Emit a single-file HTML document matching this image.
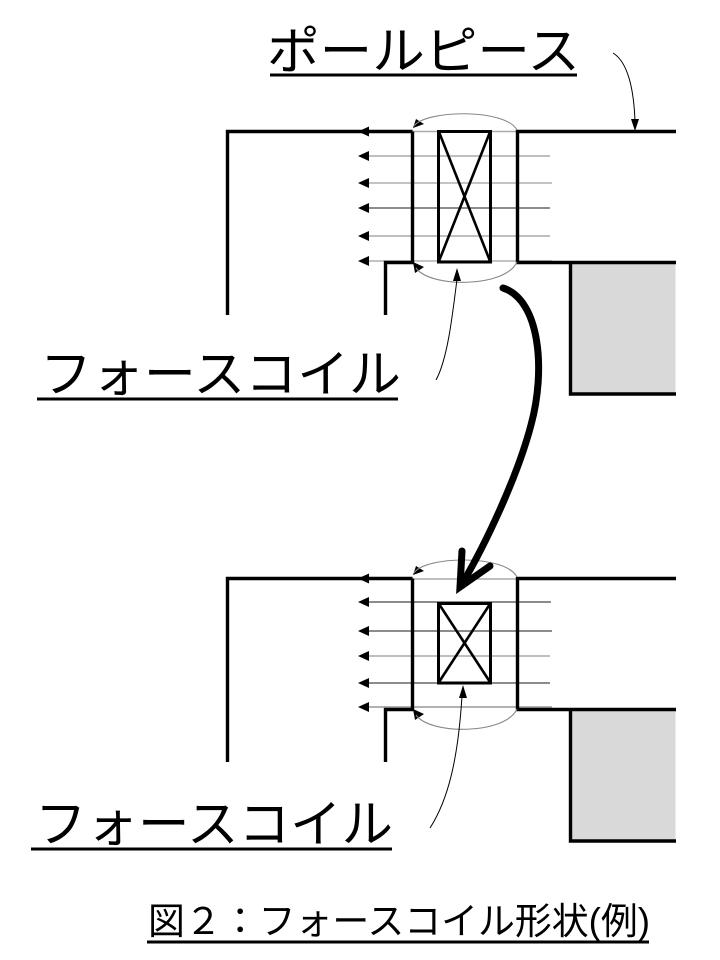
<!DOCTYPE html>
<html><head><meta charset="utf-8">
<style>
html,body{margin:0;padding:0;background:#fff;}
svg{display:block;}
text{font-family:"Liberation Sans","Noto Sans CJK JP",sans-serif;fill:#000;}
</style></head>
<body>
<svg width="720" height="960" viewBox="0 0 720 960" xmlns="http://www.w3.org/2000/svg">
<defs>
<g id="struct">
  <rect x="570.5" y="262.5" width="105" height="131.5" fill="#d9d9d9"/>
  <g fill="none" stroke="#000" stroke-width="3.4" stroke-linejoin="miter">
    <path d="M227.5,315 V131.5 H412.5"/>
    <path d="M412.5,131.5 V262.5 H385.5 V315"/>
    <path d="M676,131.5 H517.5 V262.5 H676"/>
    <path d="M570.5,262.5 V394 H676"/>
  </g>
  <polygon points="413,128 416,119 424,124" fill="#000"/>
  <polygon points="413,262 415,273 424,267" fill="#000"/>
</g>
<polygon id="ah" points="0,0 11,-5 11,5" fill="#000"/>
</defs>

<!-- TOP -->
<g>
  <!-- flux lines -->
  <g stroke-width="1.6">
    <line x1="368" y1="131.5" x2="550" y2="131.5" stroke="#aaa"/>
    <line x1="368" y1="156" x2="550" y2="156" stroke="#aaa"/>
    <line x1="368" y1="183" x2="552" y2="183" stroke="#b0b0b0"/>
    <line x1="368" y1="208" x2="550" y2="208" stroke="#666"/>
    <line x1="368" y1="236" x2="550" y2="236" stroke="#aaa"/>
    <line x1="368" y1="261" x2="552" y2="261" stroke="#b0b0b0"/>
  </g>
  <use href="#struct"/>
  <use href="#ah" x="358" y="131.5"/>
  <use href="#ah" x="358" y="156"/>
  <use href="#ah" x="358" y="183"/>
  <use href="#ah" x="358" y="208"/>
  <use href="#ah" x="358" y="236"/>
  <use href="#ah" x="358" y="261"/>
  <!-- ellipse arcs -->
  <path d="M414,126 C425,110 505,108 517,130" fill="none" stroke="#888" stroke-width="1.1"/>
  <path d="M416,268 C430,288 505,288 517,262" fill="none" stroke="#888" stroke-width="1.1"/>
  <!-- coil -->
  <rect x="438.5" y="131.5" width="52" height="130.5" fill="none" stroke="#000" stroke-width="3"/>
  <line x1="439" y1="132" x2="490" y2="261" stroke="#000" stroke-width="2.6"/>
  <line x1="490" y1="132" x2="439" y2="261" stroke="#000" stroke-width="2.6"/>
  <!-- coil leader -->
  <path d="M436,380 C447,360 452,320 457,279" fill="none" stroke="#000" stroke-width="1"/>
  <polygon points="457,268 453,281 461,281" fill="#000"/>
</g>

<!-- BOTTOM -->
<g>
  <g stroke-width="1.6">
    <line x1="368" y1="579" x2="550" y2="579" stroke="#aaa"/>
    <line x1="368" y1="602" x2="551" y2="602" stroke="#666"/>
    <line x1="368" y1="631" x2="552" y2="631" stroke="#666"/>
    <line x1="368" y1="656" x2="550" y2="656" stroke="#aaa"/>
    <line x1="368" y1="683" x2="550" y2="683" stroke="#666"/>
    <line x1="368" y1="707" x2="552" y2="707" stroke="#999"/>
  </g>
  <g transform="translate(0,447)">
    <use href="#struct"/>
  </g>
  <use href="#ah" x="358" y="578.5"/>
  <use href="#ah" x="358" y="602"/>
  <use href="#ah" x="358" y="631"/>
  <use href="#ah" x="358" y="656"/>
  <use href="#ah" x="358" y="683"/>
  <use href="#ah" x="358" y="707"/>
  <path d="M414,573 C425,556 505,554 517,577" fill="none" stroke="#888" stroke-width="1.1"/>
  <path d="M416,715 C430,735 505,735 517,709" fill="none" stroke="#888" stroke-width="1.1"/>
  <rect x="438.5" y="603.5" width="52" height="79.5" fill="none" stroke="#000" stroke-width="3"/>
  <line x1="439" y1="604" x2="490" y2="682" stroke="#000" stroke-width="2.6"/>
  <line x1="490" y1="604" x2="439" y2="682" stroke="#000" stroke-width="2.6"/>
  <path d="M430,828 C448,800 458,760 462,696" fill="none" stroke="#000" stroke-width="1"/>
  <polygon points="463,685 459,698 467,698" fill="#000"/>
</g>

<!-- big curved arrow -->
<path d="M503,288 C540,300 546,370 531,425 C517,478 485,545 462,584" fill="none" stroke="#000" stroke-width="7" stroke-linecap="round"/>
<path d="M462,551 L460,587 L490,566" fill="none" stroke="#000" stroke-width="7" stroke-linecap="round" stroke-linejoin="miter"/>

<!-- pole piece leader -->
<path d="M613,53 C628,62 634,90 635,122" fill="none" stroke="#000" stroke-width="1"/>
<polygon points="635,131 631,119 639,119" fill="#000"/>

<!-- labels -->
<text x="267" y="69" font-size="51" textLength="313" lengthAdjust="spacingAndGlyphs">ポールピース</text>
<line x1="270" y1="75" x2="577" y2="75" stroke="#000" stroke-width="3"/>

<text x="40" y="392" font-size="51" textLength="361" lengthAdjust="spacingAndGlyphs">フォースコイル</text>
<line x1="37" y1="399" x2="398" y2="399" stroke="#000" stroke-width="3"/>

<text x="35" y="842" font-size="51" textLength="358" lengthAdjust="spacingAndGlyphs">フォースコイル</text>
<line x1="31" y1="849" x2="392" y2="849" stroke="#000" stroke-width="3"/>

<text x="148" y="934" font-size="37" textLength="502" lengthAdjust="spacingAndGlyphs">図２：フォースコイル形状(例)</text>
<line x1="147" y1="942" x2="649" y2="942" stroke="#000" stroke-width="3"/>
</svg>
</body></html>
